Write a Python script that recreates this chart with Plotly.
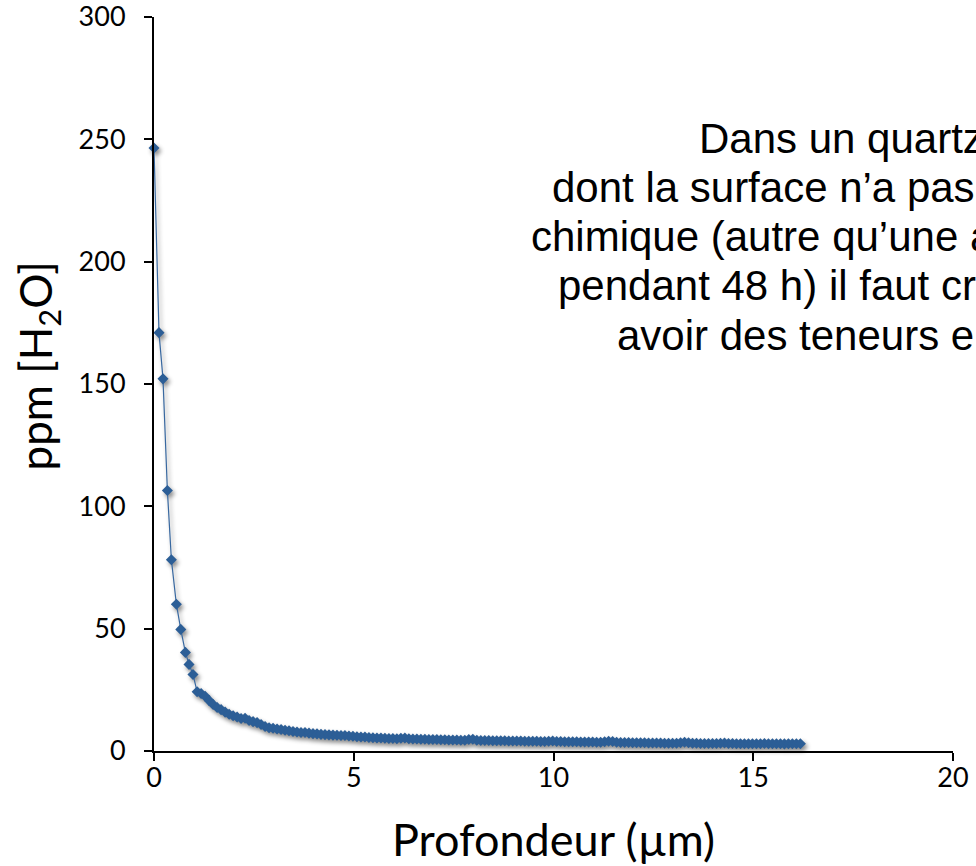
import plotly.graph_objects as go

# Water content profile versus depth below the quartz surface
depth_um = [
    0.0, 0.125, 0.225, 0.335, 0.435, 0.56, 0.67, 0.786, 0.876, 0.976, 1.08,
    1.18, 1.28, 1.38, 1.48, 1.58, 1.68, 1.78, 1.88, 1.98, 2.08,
    2.18, 2.28, 2.38, 2.48, 2.58, 2.68, 2.78, 2.88, 2.98, 3.08,
    3.18, 3.28, 3.38, 3.48, 3.58, 3.68, 3.78, 3.88, 3.98, 4.08,
    4.18, 4.28, 4.38, 4.48, 4.58, 4.68, 4.78, 4.88, 4.98, 5.08,
    5.18, 5.28, 5.38, 5.48, 5.58, 5.68, 5.78, 5.88, 5.98, 6.08,
    6.18, 6.28, 6.38, 6.48, 6.58, 6.68, 6.78, 6.88, 6.98, 7.08,
    7.18, 7.28, 7.38, 7.48, 7.58, 7.68, 7.78, 7.88, 7.98, 8.08,
    8.18, 8.28, 8.38, 8.48, 8.58, 8.68, 8.78, 8.88, 8.98, 9.08,
    9.18, 9.28, 9.38, 9.48, 9.58, 9.68, 9.78, 9.88, 9.98, 10.08,
    10.18, 10.28, 10.38, 10.48, 10.58, 10.68, 10.78, 10.88, 10.98, 11.08,
    11.18, 11.28, 11.38, 11.48, 11.58, 11.68, 11.78, 11.88, 11.98, 12.08,
    12.18, 12.28, 12.38, 12.48, 12.58, 12.68, 12.78, 12.88, 12.98, 13.08,
    13.18, 13.28, 13.38, 13.48, 13.58, 13.68, 13.78, 13.88, 13.98, 14.08,
    14.18, 14.28, 14.38, 14.48, 14.58, 14.68, 14.78, 14.88, 14.98, 15.08,
    15.18, 15.28, 15.38, 15.48, 15.58, 15.68, 15.78, 15.88, 15.98, 16.08,
    16.18,
]

ppm_h2o = [
    246.5, 171.0, 152.1, 106.5, 78.2, 60.0, 49.7, 40.3, 35.4, 31.3, 24.2,
    23.5, 22.4, 20.6, 19.0, 17.8, 16.9, 15.9, 15.0, 14.4, 13.9,
    13.3, 13.4, 12.5, 12.0, 11.6, 10.8, 10.0, 9.5, 9.3, 9.0,
    8.8, 8.5, 8.3, 8.0, 7.8, 7.6, 7.6, 7.3, 7.1, 7.0,
    6.8, 6.7, 6.6, 6.5, 6.4, 6.3, 6.3, 6.1, 6.0, 5.8,
    5.7, 5.7, 5.5, 5.4, 5.3, 5.3, 5.2, 5.1, 5.1, 5.0,
    5.2, 5.3, 5.0, 4.9, 4.9, 4.8, 4.8, 4.7, 4.7, 4.7,
    4.6, 4.6, 4.5, 4.5, 4.5, 4.4, 4.4, 4.7, 4.8, 4.4,
    4.3, 4.3, 4.3, 4.2, 4.2, 4.2, 4.2, 4.1, 4.1, 4.1,
    4.1, 4.0, 4.0, 4.0, 4.0, 3.9, 3.9, 4.0, 4.1, 3.9,
    3.9, 3.8, 3.8, 3.8, 3.8, 3.7, 3.7, 3.7, 3.7, 3.6,
    3.6, 3.8, 4.0, 3.9, 3.6, 3.5, 3.5, 3.5, 3.4, 3.4,
    3.4, 3.4, 3.3, 3.3, 3.3, 3.3, 3.2, 3.2, 3.2, 3.2,
    3.4, 3.6, 3.4, 3.2, 3.2, 3.1, 3.1, 3.1, 3.1, 3.1,
    3.2, 3.3, 3.1, 3.1, 3.0, 3.0, 3.0, 3.0, 3.0, 3.0,
    3.0, 3.1, 3.0, 3.0, 3.0, 3.0, 2.9, 3.0, 3.0, 3.0,
    3.0,
]

x_ticks = [0, 5, 10, 15, 20]
y_ticks = [0, 50, 100, 150, 200, 250, 300]

note_lines = [
    "Dans un quartz naturel,",
    "dont la surface n’a pas subi de traitement",
    "chimique (autre qu’une attaque HF",
    "pendant 48 h) il faut creuser pour",
    "avoir des teneurs en eau faibles",
]
# left edge (plot-area fraction) of each line of the centred note
note_left = [0.680, 0.495, 0.469, 0.503, 0.577]

BLUE = "#2c5e96"
TITLE_FONT = dict(family="Lato, sans-serif", color="black")

fig = go.Figure()
fig.add_trace(go.Scatter(
    x=depth_um, y=ppm_h2o,
    mode="lines+markers",
    line=dict(color="#3868a0", width=1.2),
    marker=dict(symbol="diamond", size=8.5, color=BLUE),
    cliponaxis=False,
    showlegend=False,
))

for i, (txt, xl) in enumerate(zip(note_lines, note_left)):
    fig.add_annotation(
        text=txt, xref="paper", yref="paper",
        x=xl, y=1.0, xanchor="left", yanchor="middle",
        yshift=-121 - 49.3 * i,
        showarrow=False,
        font=dict(family="Liberation Sans, Arial, sans-serif", size=42, color="black"),
    )

# vertical axis title, set as a rotated label left of the tick labels
fig.add_annotation(
    text="ppm [H<sub>2</sub>O]", xref="paper", yref="paper",
    x=-0.145, y=0.524, xanchor="center", yanchor="middle",
    textangle=-90, showarrow=False,
    font=dict(size=44, **TITLE_FONT),
)

axis_common = dict(
    showline=True, linecolor="black", linewidth=2,
    ticks="outside", ticklen=8, tickwidth=2, tickcolor="black",
    showgrid=False, zeroline=False, automargin=False,
    tickfont=dict(family="Lato, sans-serif", size=27, color="black"),
    ticklabeloverflow="allow",
)

fig.update_xaxes(
    range=[0, 20], tickvals=x_ticks, ticklabelstandoff=-6,
    title=dict(text="Profondeur (µm)", standoff=32,
               font=dict(size=45, **TITLE_FONT)),
    **axis_common,
)
fig.update_yaxes(
    range=[0, 300.01], tickvals=y_ticks, ticklabelstandoff=13,
    **axis_common,
)

fig.update_layout(
    width=976, height=866,
    margin=dict(l=154, r=23, t=17, b=115),
    plot_bgcolor="white", paper_bgcolor="white",
)

shadow_js = (
    "document.querySelectorAll('.scatterlayer .trace').forEach(function(t){"
    "t.style.filter='drop-shadow(2px 3px 2px rgba(0,0,0,0.45))';});"
)
fig.write_html("out.html", post_script=shadow_js)
